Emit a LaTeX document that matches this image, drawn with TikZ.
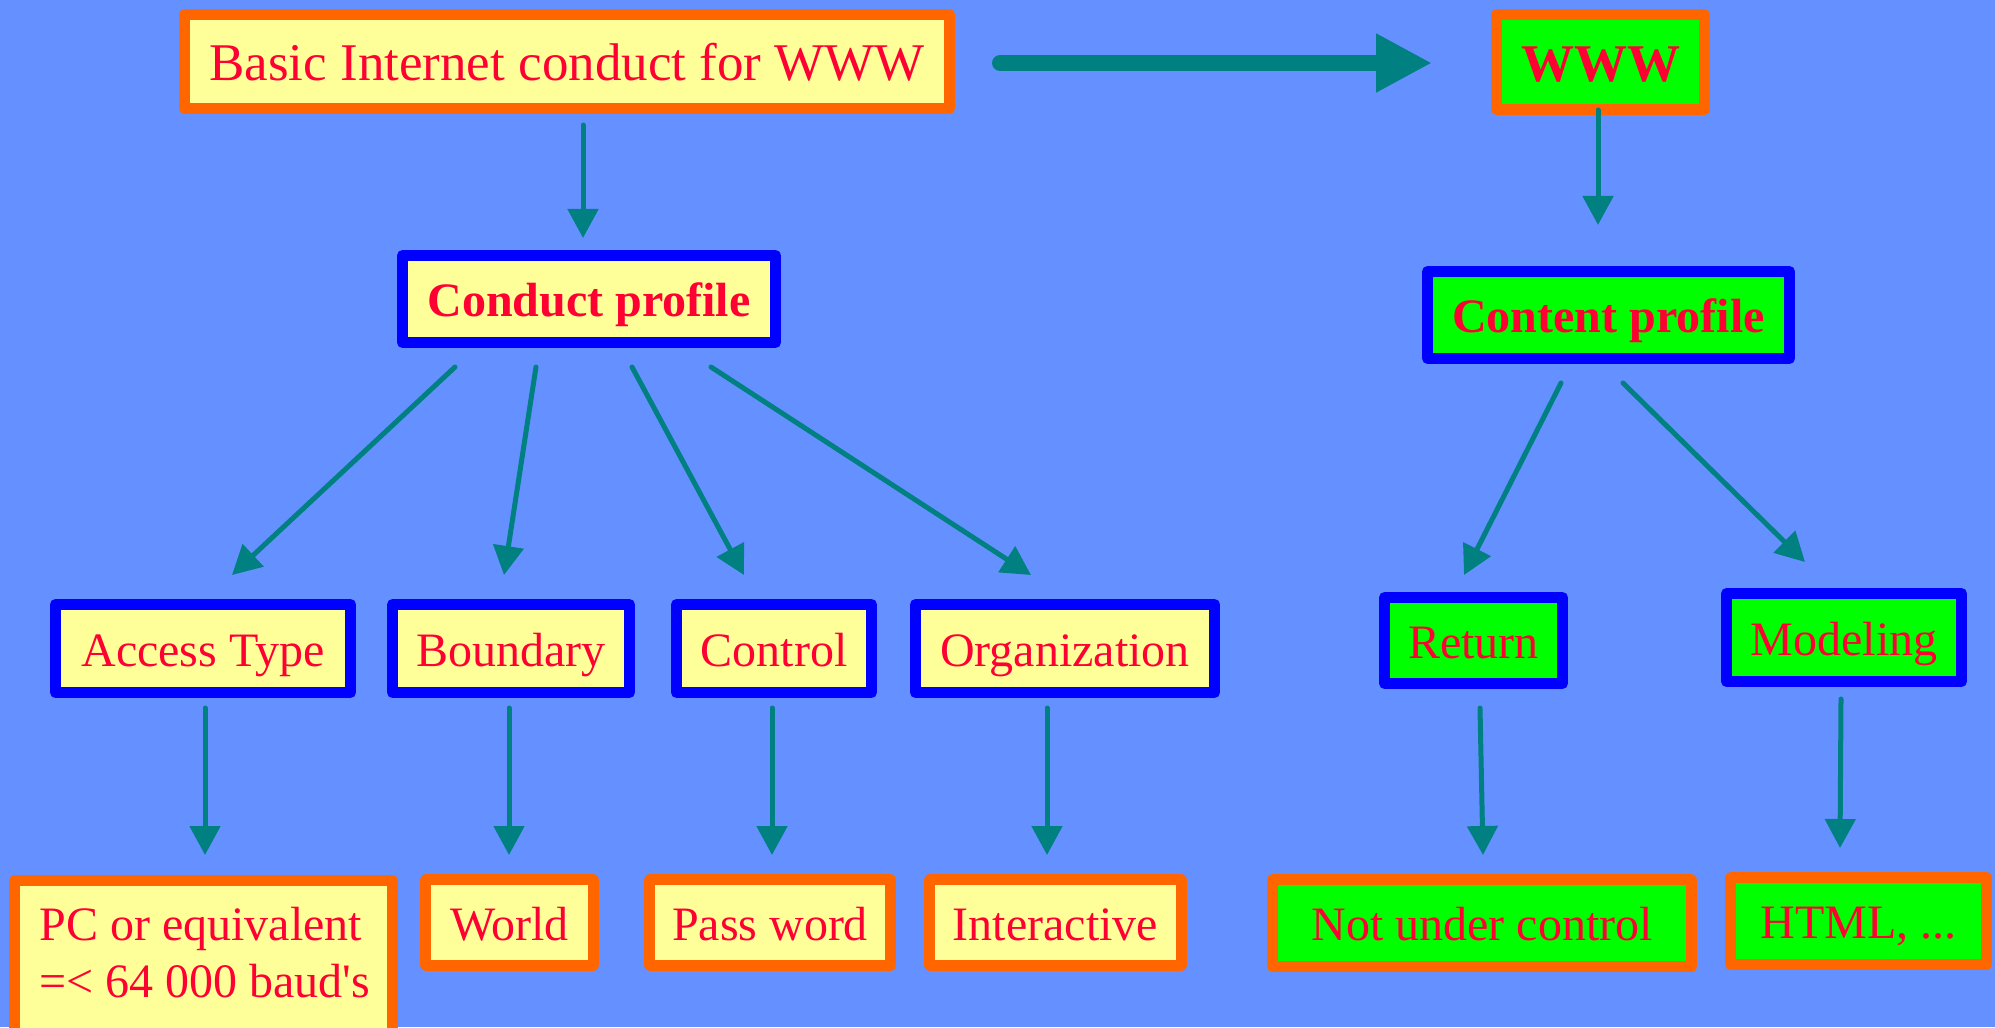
\documentclass[tikz,border=0pt]{standalone}
\usepackage{fontspec}
\setmainfont{Liberation Serif}
\usetikzlibrary{arrows.meta}

\definecolor{bgblue}{RGB}{100,145,255}
\definecolor{paleyellow}{RGB}{255,255,153}
\definecolor{boxorange}{RGB}{255,102,0}
\definecolor{boxblue}{RGB}{0,0,255}
\definecolor{boxgreen}{RGB}{0,255,0}
\definecolor{textred}{RGB}{255,0,51}
\definecolor{arrowteal}{RGB}{0,128,128}

\tikzset{
  box/.style={rectangle, line width=5.5pt, line join=round, inner sep=0pt,
    text=textred, font=\fontsize{24pt}{28.5pt}\selectfont,
    text height=17.5pt, text depth=0pt},
  yellowbox/.style={box, fill=paleyellow},
  greenbox/.style={box, fill=boxgreen},
  orangeedge/.style={draw=boxorange},
  blueedge/.style={draw=boxblue},
  bigtext/.style={font=\fontsize{26.5pt}{32pt}\selectfont, text height=19.5pt},
  boldtext/.style={font=\fontsize{24pt}{28.5pt}\selectfont\bfseries, text height=17pt},
  bigbold/.style={font=\fontsize{26.5pt}{32pt}\selectfont\bfseries, text height=19.5pt},
  conn/.style={draw=arrowteal, line width=2.5pt, line cap=round,
    -{Triangle[length=14.5pt,width=15pt]}},
  bigconn/.style={draw=arrowteal, line width=8pt, line cap=round,
    -{Triangle[length=28pt,width=27.5pt]}},
}

\begin{document}
\begin{tikzpicture}[x=0.5pt, y=-0.5pt]
\clip (0,0) rectangle (1995,1027);
\fill[bgblue] (0,0) rectangle (1995,1027);

% top row
\node[yellowbox, orangeedge, bigtext, minimum width=382.5pt, minimum height=47pt]
  (top) at (567,61.5) {Basic Internet conduct for WWW};
\node[greenbox, orangeedge, bigbold, minimum width=104pt, minimum height=47.5pt]
  (www) at (1600.5,62) {WWW};

% profiles
\node[yellowbox, blueedge, boldtext, minimum width=186.5pt, minimum height=43.5pt]
  (conduct) at (589,299) {Conduct profile};
\node[greenbox, blueedge, boldtext, minimum width=181pt, minimum height=43.5pt]
  (content) at (1608.5,315) {Content profile};

% second level
\node[yellowbox, blueedge, minimum width=147.5pt, minimum height=44pt]
  (access) at (203,648.5) {Access Type};
\node[yellowbox, blueedge, minimum width=118.5pt, minimum height=44pt]
  (boundary) at (511,648.5) {Boundary};
\node[yellowbox, blueedge, minimum width=97.5pt, minimum height=44pt]
  (control) at (774,648.5) {Control};
\node[yellowbox, blueedge, minimum width=149.5pt, minimum height=44pt]
  (organization) at (1065,648.5) {Organization};
\node[greenbox, blueedge, minimum width=89pt, minimum height=43pt]
  (return) at (1473.5,640.5) {Return};
\node[greenbox, blueedge, minimum width=117.5pt, minimum height=44pt]
  (modeling) at (1844,637.5) {Modeling};

% third level
\node[yellowbox, orangeedge, anchor=north, minimum width=189pt, minimum height=100pt]
  (pc) at (203.5,875) {};
\node[anchor=north west, inner sep=0pt, align=left, text=textred,
  font=\fontsize{24pt}{28.5pt}\selectfont]
  (pctext) at (39,907) {PC or equivalent\\=< 64 000 baud\textquotesingle s};
\node[yellowbox, orangeedge, minimum width=84pt, minimum height=43pt]
  (world) at (509.5,922.5) {World};
\node[yellowbox, orangeedge, minimum width=120.5pt, minimum height=43pt]
  (pass) at (770,922.5) {Pass word};
\node[yellowbox, orangeedge, minimum width=126pt, minimum height=43pt]
  (interactive) at (1055.5,922.5) {Interactive};
\node[greenbox, orangeedge, minimum width=209.5pt, minimum height=43.5pt]
  (notunder) at (1482,923) {Not under control};
\node[greenbox, orangeedge, minimum width=128pt, minimum height=43.5pt]
  (html) at (1858.5,921) {HTML, ...};

% connectors
\draw[bigconn] ([xshift=22.5pt,yshift=-0.75pt]top.east) -- ([xshift=-29.5pt,yshift=-0.5pt]www.west);
\draw[conn] ([xshift=8pt,yshift=-5.5pt]top.south) -- ([xshift=-3pt,yshift=6pt]conduct.north);
\draw[conn] ([xshift=-1.25pt,yshift=2.5pt]www.south) -- ([xshift=-5.25pt,yshift=20.5pt]content.north);

\draw[conn] ([xshift=-67pt,yshift=-9.5pt]conduct.south) -- ([xshift=14.5pt,yshift=12pt]access.north);
\draw[conn] ([xshift=-26.5pt,yshift=-9.5pt]conduct.south) -- ([xshift=-3.5pt,yshift=12pt]boundary.north);
\draw[conn] ([xshift=21.5pt,yshift=-9.5pt]conduct.south) -- ([xshift=-15pt,yshift=12pt]control.north);
\draw[conn] ([xshift=61pt,yshift=-9.5pt]conduct.south) -- ([xshift=-17pt,yshift=12pt]organization.north);

\draw[conn] ([xshift=-23.75pt,yshift=-9.5pt]content.south) -- ([xshift=-4.75pt,yshift=8.5pt]return.north);
\draw[conn] ([xshift=7.25pt,yshift=-9.5pt]content.south) -- ([xshift=-19.5pt,yshift=13pt]modeling.north);

\draw[conn] ([xshift=1pt,yshift=-5pt]access.south) -- ([xshift=0.75pt,yshift=10pt]pc.north);
\draw[conn] ([xshift=-1pt,yshift=-5pt]boundary.south) -- ([xshift=-0.25pt,yshift=9.5pt]world.north);
\draw[conn] ([xshift=-1pt,yshift=-5pt]control.south) -- ([xshift=1pt,yshift=9.5pt]pass.north);
\draw[conn] ([xshift=-9pt,yshift=-5pt]organization.south) -- ([xshift=-4.25pt,yshift=9.5pt]interactive.north);
\draw[conn] ([xshift=3.25pt,yshift=-9.5pt]return.south) -- ([xshift=0.5pt,yshift=9.5pt]notunder.north);
\draw[conn] ([xshift=-1.5pt,yshift=-6pt]modeling.south) -- ([xshift=-9.25pt,yshift=12pt]html.north);
\end{tikzpicture}
\end{document}
